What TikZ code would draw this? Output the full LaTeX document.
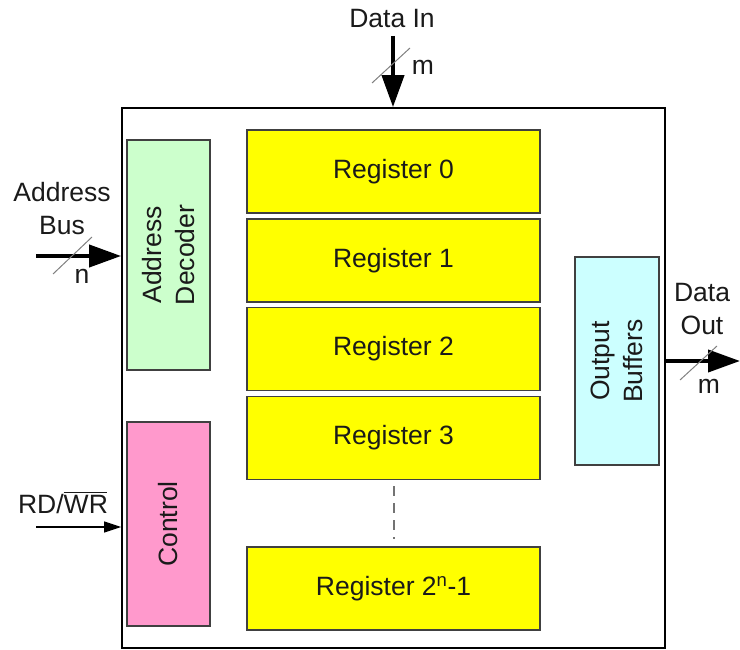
\documentclass[tikz,border=0pt]{standalone}
\usepackage{fontspec}
\setmainfont{Liberation Sans}
\usetikzlibrary{arrows.meta}
\definecolor{decgreen}{HTML}{CCFFCC}
\definecolor{ctlpink}{HTML}{FF99CC}
\definecolor{regyellow}{HTML}{FFFF00}
\definecolor{bufcyan}{HTML}{CCFFFF}
\definecolor{edgegray}{HTML}{404040}
\definecolor{txtgray}{HTML}{1A1A1A}
\begin{document}
\begin{tikzpicture}[x=1pt,y=-1pt,
  font=\fontsize{26.5}{33}\selectfont, text=txtgray,
  blockbox/.style={draw=edgegray, line width=1.5pt, inner sep=0pt, minimum width=83pt},
  regbox/.style={draw=edgegray, line width=1.5pt, fill=regyellow, inner sep=0pt, minimum width=293pt, minimum height=83pt},
  busarrow/.style={line width=4pt, -{Triangle[length=32pt,width=22pt]}},
  thinarrow/.style={line width=1.5pt, -{Triangle[length=17pt,width=11pt]}},
  slashline/.style={draw=gray, line width=1pt},
  lbl/.style={inner sep=0pt, align=center}
]
\useasboundingbox (0,0) rectangle (740,650);
% outer box
\node[draw=black, line width=1.8pt, minimum width=543pt, minimum height=540pt, inner sep=0pt] (outer) at (393.5,378) {};
% address decoder / control
\node[blockbox, fill=decgreen, minimum height=230pt] (dec) at (168.5,255) {};
\node[lbl, rotate=90] (declbl) at (dec.center) {Address\\Decoder};
\node[blockbox, fill=ctlpink, minimum height=204pt] (ctl) at (168.5,524) {};
\node[lbl, rotate=90] (ctllbl) at (ctl.center) {Control};
% registers
\node[regbox] (r0) at (393.5,171.5) {Register 0};
\node[regbox] (r1) at (393.5,260.5) {Register 1};
\node[regbox] (r2) at (393.5,349) {Register 2};
\node[regbox] (r3) at (393.5,438) {Register 3};
\node[regbox] (rn) at (393.5,588.5) {Register 2\textsuperscript{n}-1};
\draw[gray!90!black, line width=2pt, dash pattern=on 10pt off 7pt] ([yshift=-6pt]r3.south) -- ([yshift=7pt]rn.north);
% output buffers
\node[blockbox, fill=bufcyan, minimum width=84pt, minimum height=208pt] (buf) at (617,361) {};
\node[lbl, rotate=90] (buflbl) at (buf.center) {Output\\Buffers};
% Data In
\node[lbl] (dinlbl) at (392,19) {Data In};
\coordinate (dinstart) at (393,36);
\draw[busarrow] (dinstart) -- (dinstart |- outer.north);
\coordinate (dinsA) at (372,83);
\coordinate (dinsB) at (410,48);
\draw[slashline] (dinsA) -- (dinsB);
\node[lbl] (dinm) at (423,67) {m};
% Address Bus
\node[lbl] (ablbl) at (62,209) {Address\\Bus};
\coordinate (abstart) at (36,256);
\draw[busarrow] (abstart) -- (abstart -| outer.west);
\coordinate (absA) at (53,274);
\coordinate (absB) at (92,237);
\draw[slashline] (absA) -- (absB);
\node[lbl] (abn) at (82,276) {n};
% RD/WR
\node[lbl] (rwlbl) at (63,503) {RD/\rlap{\rule[0.78em]{1.62em}{1.2pt}}WR};
\coordinate (rwstart) at (36,527);
\draw[thinarrow] (rwstart) -- (rwstart -| outer.west);
% Data Out
\node[lbl] (dolbl) at (702,309) {Data\\Out};
\coordinate (doend) at (740,361);
\draw[busarrow] (doend -| outer.east) -- (doend);
\coordinate (dosA) at (680,380);
\coordinate (dosB) at (717,346);
\draw[slashline] (dosA) -- (dosB);
\node[lbl] (dom) at (709,386) {m};
\end{tikzpicture}
\end{document}
